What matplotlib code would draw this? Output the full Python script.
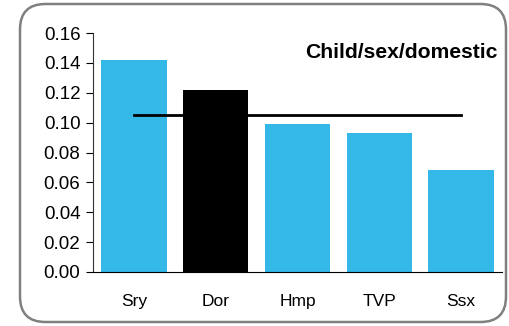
import matplotlib.pyplot as plt
from matplotlib.patches import FancyBboxPatch

plt.rcParams['font.family'] = ['Liberation Sans', 'DejaVu Sans']

# data
regions = ['Sry', 'Dor', 'Hmp', 'TVP', 'Ssx']
values = [0.142, 0.122, 0.099, 0.093, 0.068]
bar_colors = ['#33b8e8', '#000000', '#33b8e8', '#33b8e8', '#33b8e8']
average = 0.105

fig = plt.figure(figsize=(5.09, 3.26), dpi=100)
ax = fig.add_axes([93/509, 1 - 272/326, 409/509, 239/326])

x = list(range(len(regions)))
ax.bar(x, values, width=0.8, color=bar_colors)
ax.plot([x[0], x[-1]], [average, average], color='black', lw=2)

ax.set_xlim(-0.5, 4.5)
ax.set_ylim(0, 0.16)
ax.set_yticks([i * 0.02 for i in range(9)])
ax.set_yticklabels(['%.2f' % (i * 0.02) for i in range(9)], fontsize=13.5)
ax.set_xticks(x)
ax.set_xticklabels(regions, fontsize=12.5)
ax.tick_params(axis='x', length=0, pad=16)
ax.tick_params(axis='y', length=5, pad=4, direction='out')
ax.spines['top'].set_visible(False)
ax.spines['right'].set_visible(False)
ax.spines['left'].set_color('#333333')

ax.text(0.99, 0.96, 'Child/sex/domestic', transform=ax.transAxes,
        ha='right', va='top', fontsize=15.2, fontweight='bold')

# rounded frame around the whole chart
frame = FancyBboxPatch((20/509, 4/326), 486/509, 318/326,
                       boxstyle='round,pad=0,rounding_size=0.05',
                       transform=fig.transFigure, fill=False,
                       edgecolor='#808080', lw=1.8, mutation_aspect=509/326)
fig.patches.append(frame)

fig.savefig('out.png', dpi=100)
